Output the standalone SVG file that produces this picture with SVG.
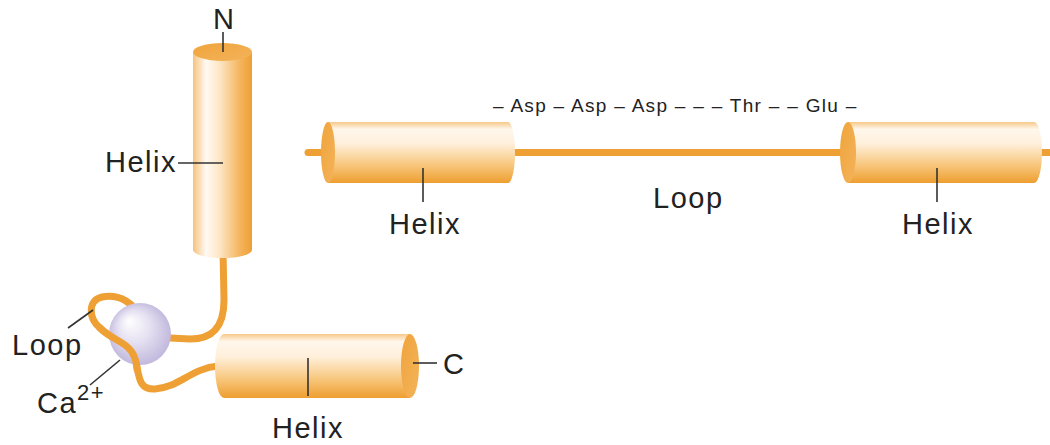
<svg xmlns="http://www.w3.org/2000/svg" width="1050" height="445" viewBox="0 0 1050 445">
  <defs>
    <!-- cylinder shading: lit from the top / left -->
    <linearGradient id="bodyH" x1="0" y1="0" x2="0" y2="1">
      <stop offset="0" stop-color="#f7c98a"/>
      <stop offset="0.12" stop-color="#fff7ec"/>
      <stop offset="0.35" stop-color="#fff0dc"/>
      <stop offset="0.7" stop-color="#f8c77e"/>
      <stop offset="1" stop-color="#ee9e30"/>
    </linearGradient>
    <linearGradient id="bodyV" x1="0" y1="0" x2="1" y2="0">
      <stop offset="0" stop-color="#f6c27c"/>
      <stop offset="0.22" stop-color="#fffaf2"/>
      <stop offset="0.45" stop-color="#fde6c6"/>
      <stop offset="0.8" stop-color="#f4b45c"/>
      <stop offset="1" stop-color="#ee9f36"/>
    </linearGradient>
    <linearGradient id="cap" x1="0" y1="0" x2="1" y2="1">
      <stop offset="0" stop-color="#f0a43c"/>
      <stop offset="1" stop-color="#f3b35a"/>
    </linearGradient>
    <radialGradient id="ion" cx="0.5" cy="0.5" r="0.55" fx="0.32" fy="0.28">
      <stop offset="0" stop-color="#ffffff"/>
      <stop offset="0.45" stop-color="#e6e2f2"/>
      <stop offset="1" stop-color="#bdb3da"/>
    </radialGradient>
    <style>
      .strand { fill: none; stroke: #efa035; stroke-width: 7; stroke-linecap: round; stroke-linejoin: round; }
      .lbl { font-family: "Liberation Sans", Arial, sans-serif; font-size: 29px; fill: #222; letter-spacing: 1.5px; }
      .seq { font-family: "Liberation Sans", Arial, sans-serif; font-size: 19px; fill: #222; letter-spacing: 1.3px; }
      .tick { stroke: #333; stroke-width: 1.6; fill: none; }
      .capfill { fill: url(#cap); }
    </style>
  </defs>

  <rect width="1050" height="445" fill="#ffffff"/>

  <!-- polypeptide chain (loops) -->
  <g id="connectors">
    <!-- straight chain through the extended EF-hand -->
    <path class="strand" d="M308,152.5 H1050"/>
    <!-- folded chain: N-helix down into the loop, behind the ion -->
    <path class="strand" d="M223,250 L224,300 C224,330 210,339 190,339 L150,337"/>
    <path class="strand" d="M140,322 C137,302 118,294 102,297 C88,300 88,318 100,328 C112,340 128,342 134,356 C140,372 136,390 155,389 C178,388 192,368 218,366"/>
  </g>

  <!-- Ca2+ ion -->
  <g id="calcium-ion">
    <circle cx="140" cy="334" r="31" fill="url(#ion)"/>
  </g>

  <!-- stretch of chain passing in front of the ion -->
  <g id="connector-front">
    <path class="strand" d="M100,328 C112,340 128,342 134,356 C136,361 137,366 137,369"/>
  </g>

  <!-- N-terminal helix (vertical) -->
  <g id="helix-n">
    <path d="M193,52 V250 A29.5,8 0 0 0 252,250 V52 Z" fill="url(#bodyV)"/>
    <ellipse class="capfill" cx="222.5" cy="52" rx="29.5" ry="9"/>
  </g>

  <!-- C-terminal helix (horizontal, bottom) -->
  <g id="helix-c">
    <path d="M224,334 H410 V398 H224 A9,32 0 0 1 224,334 Z" fill="url(#bodyH)"/>
    <ellipse class="capfill" cx="410" cy="366" rx="9" ry="32"/>
  </g>

  <!-- extended view: first helix -->
  <g id="helix-1">
    <path d="M328,122 H508 A7,30.5 0 0 1 508,183 H328 Z" fill="url(#bodyH)"/>
    <ellipse class="capfill" cx="328" cy="152.5" rx="7" ry="30.5"/>
  </g>

  <!-- extended view: second helix -->
  <g id="helix-2">
    <path d="M848,122 H1034 A8,30.5 0 0 1 1034,183 H848 Z" fill="url(#bodyH)"/>
    <ellipse class="capfill" cx="848" cy="152.5" rx="8" ry="30.5"/>
  </g>

  <!-- label leader lines -->
  <g id="leaders">
    <line class="tick" x1="223" y1="32" x2="223" y2="52"/>
    <line class="tick" x1="178" y1="163" x2="223" y2="163"/>
    <line class="tick" x1="68" y1="328" x2="93" y2="310"/>
    <line class="tick" x1="90" y1="385" x2="120" y2="360"/>
    <line class="tick" x1="413" y1="363" x2="437" y2="363"/>
    <line class="tick" x1="308" y1="358" x2="308" y2="396"/>
    <line class="tick" x1="423" y1="168" x2="423" y2="202"/>
    <line class="tick" x1="937" y1="168" x2="937" y2="202"/>
  </g>

  <!-- labels -->
  <g id="labels">
    <text class="lbl" x="213" y="29">N</text>
    <text class="lbl" x="105" y="172">Helix</text>
    <text class="lbl" x="12" y="355">Loop</text>
    <text class="lbl" x="37" y="413">Ca<tspan font-size="22" dy="-13">2+</tspan></text>
    <text class="lbl" x="443" y="374">C</text>
    <text class="lbl" x="272" y="438">Helix</text>
    <text class="lbl" x="389" y="234">Helix</text>
    <text class="lbl" x="653" y="208">Loop</text>
    <text class="lbl" x="902" y="234">Helix</text>
    <text class="seq" x="493" y="112">– Asp – Asp – Asp – – – Thr – – Glu –</text>
  </g>
</svg>
